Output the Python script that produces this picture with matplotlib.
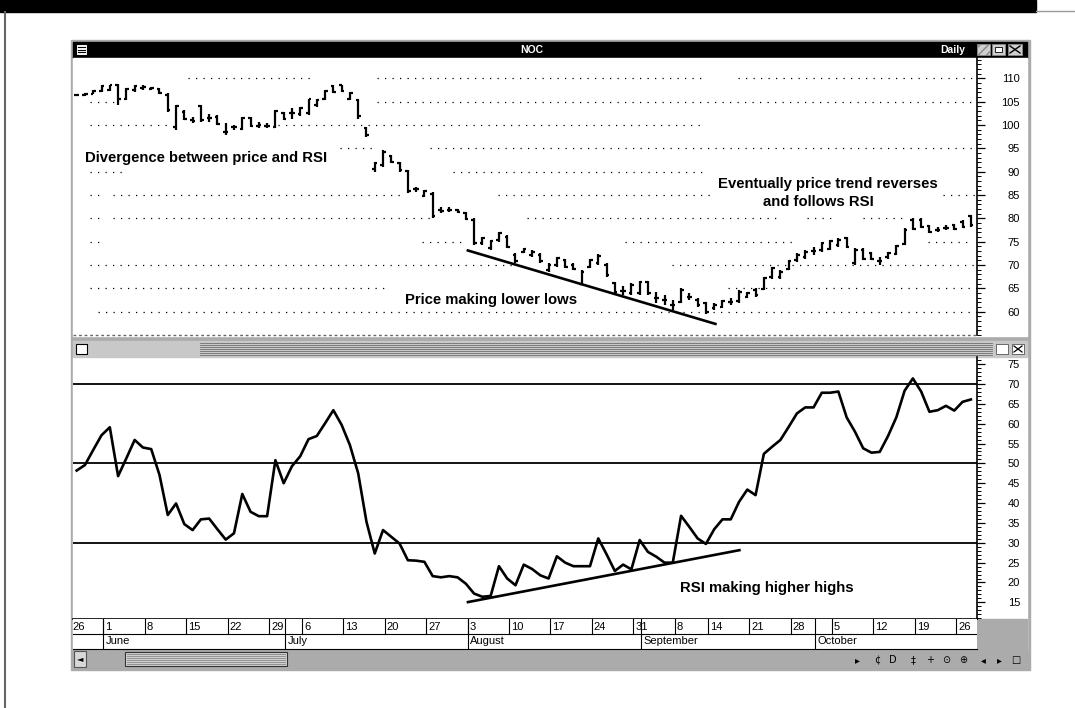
import numpy as np
import pandas as pd
import matplotlib
matplotlib.use("Agg")
import matplotlib.pyplot as plt
from matplotlib.patches import Rectangle
from matplotlib.ticker import MultipleLocator

plt.rcParams['font.family'] = ['Liberation Sans', 'DejaVu Sans']

W, H = 1075, 708

# NOC daily bars, 1998 (NYSE holidays Jul 3 and Sep 7 removed)
dates = pd.bdate_range("1998-05-26", "1998-10-27")
dates = dates[~dates.isin(pd.to_datetime(["1998-07-03", "1998-09-07"]))]

highs = [106.6, 106.9, 107.5, 108.6, 108.7, 108.9, 107.9, 108.6, 108.7, 108.2,
         108.0, 106.8, 104.3, 103.2, 101.8, 104.3, 102.3, 102.1, 100.4, 100.1,
         101.8, 101.8, 100.7, 100.4, 103.2, 102.9, 103.6, 103.9, 105.7, 105.7,
         107.5, 108.7, 108.7, 107.1, 105.7, 99.6, 92.1, 94.6, 93.6, 92.1,
         90.4, 86.8, 86.1, 85.7, 82.5, 82.5, 82.1, 81.4, 80.0, 76.1,
         75.4, 77.1, 76.4, 72.5, 73.7, 73.2, 72.5, 70.4, 71.8, 71.3,
         70.4, 68.9, 71.4, 72.3, 70.4, 66.4, 65.4, 66.1, 66.6, 66.6,
         64.3, 63.6, 62.5, 65.0, 63.9, 62.9, 62.1, 61.8, 62.5, 62.9,
         64.6, 64.3, 65.0, 67.5, 69.6, 68.9, 71.1, 72.5, 73.2, 73.9,
         75.0, 75.4, 75.7, 76.1, 73.6, 73.6, 72.9, 71.8, 72.9, 74.3,
         77.9, 80.0, 80.0, 78.6, 78.2, 78.6, 78.9, 79.6, 80.8]
lows = [106.2, 106.3, 106.6, 107.1, 107.3, 104.4, 105.4, 107.1, 107.5, 107.5,
        106.6, 102.9, 98.9, 101.0, 100.4, 100.7, 100.7, 100.0, 97.9, 98.9,
        98.9, 99.6, 99.4, 99.4, 99.3, 101.1, 101.4, 102.0, 102.1, 103.9,
        105.4, 106.8, 107.0, 105.4, 101.4, 97.5, 90.0, 91.1, 91.8, 90.0,
        85.4, 85.7, 84.6, 80.1, 81.1, 81.4, 81.1, 79.6, 74.3, 74.3,
        73.2, 75.0, 73.6, 70.4, 72.5, 71.8, 70.4, 68.6, 69.6, 69.3,
        68.9, 65.7, 69.3, 70.0, 67.5, 63.9, 63.6, 63.6, 63.6, 63.6,
        61.8, 61.4, 60.3, 61.8, 62.5, 61.1, 59.6, 60.4, 60.7, 61.4,
        61.8, 62.9, 63.2, 64.6, 67.1, 67.1, 68.9, 70.7, 71.4, 72.1,
        72.9, 73.2, 73.9, 73.6, 70.1, 71.1, 71.1, 70.0, 71.4, 72.1,
        74.3, 77.5, 77.9, 76.8, 77.1, 77.5, 77.5, 77.9, 78.2]
opens = [106.4, 106.5, 106.7, 107.3, 107.5, 108.5, 105.7, 107.5, 108.0, 107.8,
         107.8, 106.5, 99.5, 102.9, 101.0, 104.0, 101.5, 101.8, 98.5, 99.5,
         99.2, 101.5, 99.9, 99.8, 99.6, 102.6, 102.5, 102.3, 102.5, 104.3,
         105.7, 108.4, 108.5, 105.7, 105.3, 99.3, 90.5, 91.5, 93.3, 91.8,
         90.1, 86.2, 84.9, 85.3, 81.8, 81.7, 81.8, 81.1, 79.7, 74.7,
         73.6, 75.3, 76.1, 72.2, 72.8, 72.1, 72.2, 68.9, 70.0, 71.0,
         70.1, 66.0, 69.6, 70.4, 70.1, 66.1, 64.5, 64.0, 63.9, 66.3,
         63.0, 62.5, 61.5, 62.1, 63.2, 62.6, 61.8, 60.7, 61.0, 62.1,
         62.2, 63.2, 64.7, 64.9, 67.5, 67.5, 69.2, 71.0, 71.7, 73.0,
         73.2, 73.5, 74.2, 75.8, 70.5, 73.3, 72.6, 70.9, 71.7, 72.4,
         74.6, 79.7, 79.7, 78.3, 77.6, 78.0, 78.6, 79.3, 80.5]
closes = [106.4, 106.7, 107.4, 108.4, 108.6, 105.5, 107.7, 108.4, 108.2, 107.9,
          106.9, 103.2, 104.0, 101.4, 100.8, 101.0, 101.5, 100.3, 98.5, 99.5,
          101.5, 99.9, 100.1, 99.9, 103.0, 101.4, 102.6, 103.6, 105.5, 105.4,
          107.3, 107.1, 107.3, 106.8, 102.0, 97.8, 91.8, 94.3, 92.1, 90.3,
          85.8, 86.2, 85.8, 80.5, 81.6, 81.9, 81.4, 79.9, 74.7, 75.8,
          75.1, 76.8, 73.9, 70.8, 73.5, 72.9, 70.8, 70.1, 71.5, 69.6,
          69.2, 68.6, 71.1, 72.0, 67.8, 64.2, 64.5, 65.8, 66.3, 63.9,
          63.0, 62.5, 61.5, 64.7, 63.2, 61.4, 59.9, 61.5, 62.2, 62.1,
          64.3, 64.0, 63.5, 67.2, 69.3, 68.6, 70.8, 72.2, 72.9, 73.0,
          74.7, 75.1, 75.4, 73.9, 73.2, 71.4, 71.4, 70.9, 72.6, 74.0,
          77.6, 77.8, 78.2, 77.1, 77.6, 78.0, 77.8, 78.2, 78.5]

rsi = [48.2, 49.6, 53.4, 57.1, 59.1, 46.8, 51.3, 55.9, 54.0, 53.6,
       47.1, 37.0, 39.9, 34.7, 33.2, 35.9, 36.1, 33.4, 30.8, 32.4,
       42.3, 37.8, 36.7, 36.7, 50.8, 45.0, 49.3, 51.8, 56.1, 56.9,
       60.1, 63.4, 59.7, 54.6, 47.5, 35.3, 27.3, 33.2, 31.5, 29.8,
       25.6, 25.5, 25.2, 21.6, 21.3, 21.6, 21.3, 19.7, 17.2, 16.4,
       16.6, 24.1, 21.0, 19.3, 24.5, 23.4, 21.8, 21.0, 26.6, 25.0,
       24.1, 24.1, 24.1, 31.1, 27.1, 22.9, 24.5, 23.3, 30.7, 27.7,
       26.5, 25.0, 25.0, 36.8, 34.0, 31.1, 29.7, 33.4, 35.9, 35.9,
       40.3, 43.4, 42.0, 52.4, 54.2, 55.9, 59.2, 62.6, 64.1, 64.1,
       67.8, 67.8, 68.1, 61.6, 58.0, 53.8, 52.7, 52.9, 56.9, 61.6,
       68.3, 71.4, 68.1, 63.0, 63.4, 64.5, 63.3, 65.5, 66.1]

price_ticks = list(range(60, 111, 5))
rsi_ticks = list(range(15, 76, 5))
rsi_levels = [30, 50, 70]

# hand drawn trend lines: (day index, value) at both ends
price_trend_x = [47.1, 77.3]
price_trend_y = [73.2, 57.3]
rsi_trend_x = [47.1, 80.2]
rsi_trend_y = [15.0, 28.2]

annotations = ["Divergence between price and RSI", "Price making lower lows",
               "Eventually price trend reverses", "and follows RSI",
               "RSI making higher highs"]

# ---------------------------------------------------------------------------
# pixel geometry of the old charting window
X0, X1 = 73, 977          # plot area left / right
DAY0, DAYW = 76.7, 8.279  # pixel of first bar, pixels per trading day
XLIM = ((X0 - DAY0) / DAYW, (X1 - DAY0) / DAYW)
TICK_OFF = 0.78           # date separators sit a bit left of the bar
HALF = '#ababab'


def px_to_day(px):
    return (px - DAY0) / DAYW


fig = plt.figure(figsize=(W / 100, H / 100), dpi=100)
fig.patch.set_facecolor('white')


def px_axes(x0, y0, x1, y1, **kw):
    return fig.add_axes([x0 / W, 1 - y1 / H, (x1 - x0) / W, (y1 - y0) / H], **kw)


bg = px_axes(0, 0, W, H, zorder=0)
bg.set_xlim(0, W)
bg.set_ylim(H, 0)
bg.axis('off')


def rect(x0, y0, x1, y1, **kw):
    bg.add_patch(Rectangle((x0, y0), x1 - x0, y1 - y0, **kw))


# page chrome
rect(0, 0, 1036, 12, color='black')
bg.plot([1036, W], [11, 11], color='#9a9a9a', lw=1)
bg.plot([5, 5], [12, H], color='#666666', lw=1.5)

# window frame
rect(71, 40, 1030, 670, color=HALF)
rect(73, 42, 1027, 57.5, color='black')
rect(73, 57.5, 1027, 336, color='white')
rect(73, 357, 1027, 650, color='white')
rect(977, 619, 1027, 650, color=HALF)

# title bar
rect(76, 44, 87, 55, facecolor='white', edgecolor='black', lw=0.8)
for yy in (47, 49.5, 52):
    bg.plot([78, 85], [yy, yy], color='black', lw=0.8)
bg.text(532, 50, "NOC", color='white', fontsize=7.5, fontweight='bold',
        ha='center', va='center')
bg.text(953, 50, "Daily", color='white', fontsize=7.5, fontweight='bold',
        ha='center', va='center')
rect(977, 44, 990, 55, facecolor='#cfcfcf', edgecolor='#888888', hatch='////', lw=0.6)
rect(992, 44, 1005, 55, facecolor='#cfcfcf', edgecolor='#888888', lw=0.6)
rect(995, 47, 1002, 52, facecolor='white', edgecolor='black', lw=0.6)
rect(1008, 44, 1022, 55, facecolor='#cfcfcf', edgecolor='#888888', lw=0.6)
bg.plot([1010, 1020], [46, 53], color='black', lw=1)
bg.plot([1010, 1020], [53, 46], color='black', lw=1)

# separator / title bar of the lower pane
bg.plot([X0, X1], [335, 335], color='#666666', lw=1, ls=(0, (2, 2)))
rect(73, 341, 1027, 357, color='#c8c8c8')
for yy in np.arange(343, 356, 2):
    bg.plot([200, 992], [yy, yy], color='#6f6f6f', lw=0.6)
rect(88, 342, 200, 356, facecolor='#c8c8c8', edgecolor='none', hatch='xxxx', lw=0)
rect(76, 344, 87, 354, facecolor='white', edgecolor='black', lw=0.8)
rect(996, 344, 1008, 354, facecolor='white', edgecolor='#555555', lw=0.6)
rect(1012, 344, 1024, 354, facecolor='white', edgecolor='#555555', lw=0.6)
bg.plot([1014, 1022], [346, 352], color='black', lw=0.9)
bg.plot([1014, 1022], [352, 346], color='black', lw=0.9)

# scrollbar
rect(73, 650, 1027, 668, color=HALF)
rect(74, 651, 86, 667, facecolor='#d8d8d8', edgecolor='#555555', lw=0.8)
bg.text(80, 659, "\u25c4", fontsize=6, ha='center', va='center', family='DejaVu Sans')
rect(125, 652, 287, 666, facecolor='#d0d0d0', edgecolor='#333333', lw=0.8)
for yy in np.arange(654, 665, 2):
    bg.plot([127, 285], [yy, yy], color='#888888', lw=0.6)
icon_x = [857, 877, 893, 913, 930, 946, 963, 983, 999, 1016]
icon_s = ["\u25b8", "\u00a2", "D", "\u2021", "+", "\u2299", "\u2295", "\u25c2", "\u25b8", "\u25a1"]
for ix, s in zip(icon_x, icon_s):
    bg.text(ix, 660, s, fontsize=7, ha='center', va='center', family='DejaVu Sans')

# ---------------------------------------------------------------------------
x = np.arange(len(dates))

# price pane
ax_p = px_axes(X0, 57.5, X1, 335, zorder=2)
ax_p.set_facecolor('none')
ax_p.set_xlim(*XLIM)
ax_p.set_ylim(55.0, 114.5)

# dotted price grid, with the gaps the original shows (pixel spans)
grid_spans = {
    110: [(188, 310), (377, 703), (738, 977)],
    105: [(90, 117), (377, 977)],
    100: [(90, 170), (278, 703)],
    95: [(340, 377), (430, 977)],
    90: [(90, 122), (453, 703)],
    85: [(90, 100), (113, 403), (498, 715), (943, 977)],
    80: [(90, 100), (113, 433), (527, 778), (807, 832), (863, 907)],
    75: [(90, 100), (422, 465), (625, 793), (928, 967)],
    70: [(90, 517), (672, 977)],
    65: [(90, 387), (728, 977)],
    60: [(98, 977)],
}
for level in price_ticks:
    for a, b in grid_spans[level]:
        ax_p.plot([px_to_day(a), px_to_day(b)], [level, level], color='black',
                  lw=0.9, ls=(0, (1, 5)))

ax_p.vlines(x, lows, highs, color='black', lw=1.6)
ax_p.hlines(opens, x - 0.32, x, color='black', lw=1.6)
ax_p.hlines(closes, x, x + 0.32, color='black', lw=1.6)
ax_p.plot(price_trend_x, price_trend_y, color='black', lw=1.9, solid_capstyle='butt')

# rsi pane
ax_r = px_axes(X0, 357, X1, 619, zorder=2)
ax_r.set_facecolor('none')
ax_r.set_xlim(*XLIM)
ax_r.set_ylim(10.8, 76.8)
for lv in rsi_levels:
    ax_r.axhline(lv, color='black', lw=1.3)
ax_r.plot(x, rsi, color='black', lw=1.9, solid_joinstyle='round')
ax_r.plot(rsi_trend_x, rsi_trend_y, color='black', lw=1.9, solid_capstyle='butt')

for ax, ticks in ((ax_p, price_ticks), (ax_r, rsi_ticks)):
    for side in ('top', 'left'):
        ax.spines[side].set_visible(False)
    ax.spines['right'].set_linewidth(1.2)
    ax.set_xticks([])
    ax.yaxis.tick_right()
    ax.set_yticks(ticks)
    ax.yaxis.set_minor_locator(MultipleLocator(1))
    ax.tick_params(axis='y', which='major', length=5.5, width=0.9, pad=25.5,
                   labelsize=8)
    ax.tick_params(axis='y', which='minor', length=3, width=0.7)
    for lab in ax.get_yticklabels():
        lab.set_horizontalalignment('right')
ax_p.spines['bottom'].set_visible(False)
ax_r.spines['bottom'].set_linewidth(1.2)

# date axis below the rsi pane
ax_d = px_axes(X0, 619, X1, 649, zorder=2)
ax_d.set_facecolor('white')
ax_d.set_xlim(*XLIM)
ax_d.set_ylim(0, 2)
ax_d.set_xticks([])
ax_d.set_yticks([])
for side in ('top', 'left', 'right'):
    ax_d.spines[side].set_visible(False)
ax_d.spines['bottom'].set_linewidth(0.8)
ax_d.axhline(1, color='black', lw=0.8)

week = dates.to_period('W')
week_start = [i for i in range(len(dates)) if i == 0 or week[i] != week[i - 1]]
month_start = [i for i in range(1, len(dates)) if dates[i].month != dates[i - 1].month]

for i in week_start:
    xt = i - TICK_OFF
    ax_d.plot([xt, xt], [1, 2], color='black', lw=0.8, clip_on=True)
    ax_d.text(xt + 0.25, 1.5, str(dates[i].day), fontsize=8, ha='left',
              va='center', clip_on=True)
for i in month_start:
    xt = i - TICK_OFF
    ax_d.plot([xt, xt], [0, 2], color='black', lw=0.8)
    ax_d.text(xt + 0.25, 0.5, dates[i].strftime('%B'), fontsize=8, ha='left',
              va='center', clip_on=True)

# annotations
txt = dict(fontsize=10.7, fontweight='bold', va='center', ha='left', zorder=5)
bg_top = px_axes(0, 0, W, H, zorder=3)
bg_top.set_xlim(0, W)
bg_top.set_ylim(H, 0)
bg_top.axis('off')
bg_top.text(85, 158, annotations[0], **txt)
bg_top.text(405, 300, annotations[1], **txt)
bg_top.text(718, 184, annotations[2], **txt)
bg_top.text(763, 202, annotations[3], **txt)
bg_top.text(680, 588, annotations[4], **txt)

fig.savefig("out.png", dpi=100, facecolor='white')
